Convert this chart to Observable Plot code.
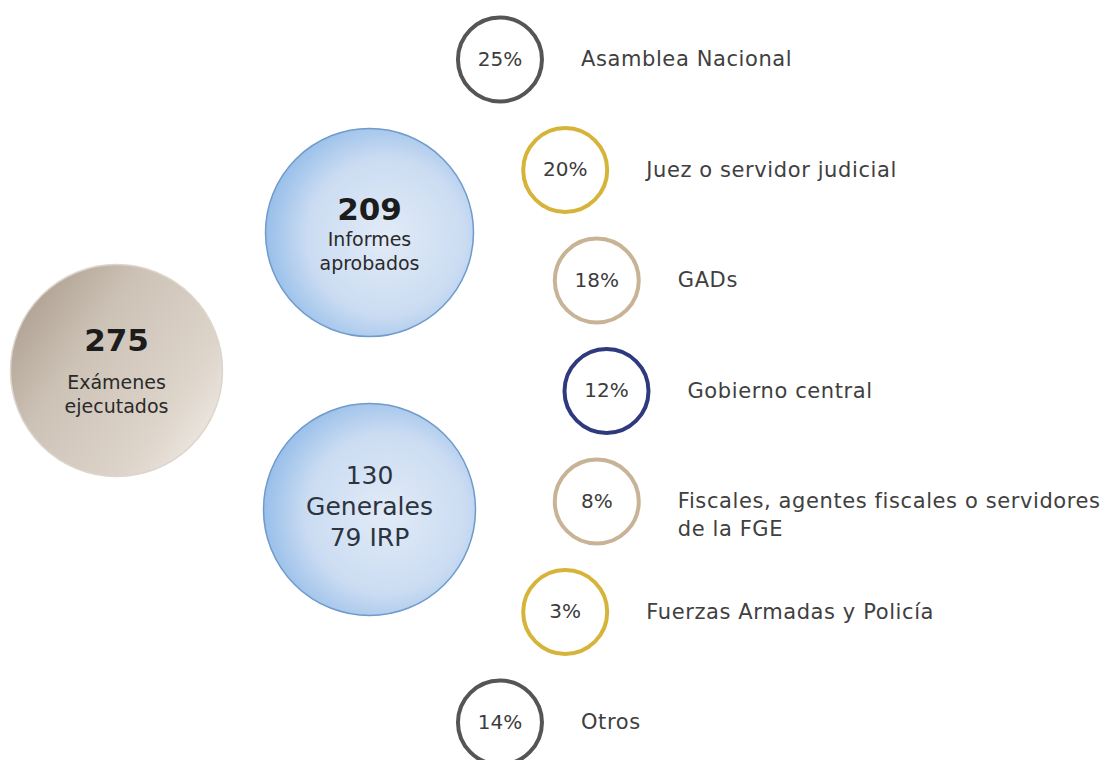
<!DOCTYPE html>
<html>
<head>
<meta charset="utf-8">
<script src="https://cdn.jsdelivr.net/npm/d3@7"></script>
<script src="https://cdn.jsdelivr.net/npm/@observablehq/plot@0.6"></script>
<style>
  html, body { margin: 0; padding: 0; background: #ffffff; }
  #chart { width: 1101px; height: 760px; }
</style>
</head>
<body>
<div id="chart"></div>
<script>
// ---- Data ----
const totalLines = ["275", "Exámenes", "ejecutados"];
const approvedLines = ["209", "Informes", "aprobados"];
const breakdownLines = ["130", "Generales", "79 IRP"];

const categories = [
  "Asamblea Nacional",
  "Juez o servidor judicial",
  "GADs",
  "Gobierno central",
  "Fiscales, agentes fiscales o servidores\nde la FGE",
  "Fuerzas Armadas y Policía",
  "Otros"
];
const percents = [25, 20, 18, 12, 8, 3, 14];
const ringColors = ["#555555", "#d6b43a", "#c9b397", "#2f3a7e", "#c9b397", "#d6b43a", "#555555"];

// ---- Layout (computed) ----
const W = 1101, H = 760;
const arcCx = 330, arcCy = 390.5, arcA = 276, arcB = 420;
const yTop = 59, yBottom = 722;
const step = (yBottom - yTop) / (categories.length - 1);
const rings = categories.map((c, i) => {
  const y = yTop + i * step;
  const x = arcCx + arcA * Math.sqrt(Math.max(0, 1 - ((y - arcCy) / arcB) ** 2));
  const lines = c.split("\n");
  return {first: lines[0], second: lines[1] || "", pct: percents[i] + "%", color: ringColors[i], x, y};
});

const bigCircles = [
  {x: 116, y: 370, r: 106, fill: "url(#gradBeige)", stroke: "#ddd5cc", lines: totalLines, dys: [-29, 12, 36], sizes: [31, 19, 19], bold: true, color: "#2a2a2a"},
  {x: 369, y: 232, r: 104, fill: "url(#gradBlue)", stroke: "#6f9bcb", lines: approvedLines, dys: [-22, 7, 31], sizes: [31, 19, 19], bold: true, color: "#2a2a2a"},
  {x: 369, y: 509, r: 106, fill: "url(#gradBlue)", stroke: "#6f9bcb", lines: breakdownLines, dys: [-34, -3, 28], sizes: [25, 25, 25], bold: false, color: "#2c3440"}
];
const centerTexts = bigCircles.flatMap(c => c.lines.map((t, j) => ({
  x: c.x, y: c.y + c.dys[j], t, s: c.sizes[j], bold: c.bold && j === 0, color: c.color
})));

const font = "'DejaVu Sans', sans-serif";

const chart = Plot.plot({
  width: W, height: H,
  margin: 0,
  x: {domain: [0, W], range: [0, W], axis: null},
  y: {domain: [0, H], range: [0, H], axis: null},
  r: {type: "identity"},
  style: {fontFamily: font, background: "#ffffff"},
  marks: [
    Plot.dot(bigCircles, {x: "x", y: "y", r: "r", fill: d => d.fill, stroke: d => d.stroke, strokeWidth: 1.5}),
    Plot.dot(rings, {x: "x", y: "y", r: 42, fill: "#ffffff", stroke: d => d.color, strokeWidth: 4}),
    Plot.text(rings, {x: "x", y: "y", text: "pct", fontSize: 20, fill: "#3c3c3c"}),
    Plot.text(rings, {x: d => d.x + 81, y: "y", text: "first", textAnchor: "start", fontSize: 21, fill: "#404040", className: "lbl"}),
    Plot.text(rings.filter(d => d.second), {x: d => d.x + 81, y: d => d.y + 28, text: "second", textAnchor: "start", fontSize: 21, fill: "#404040", className: "lbl"}),
    Plot.text(centerTexts.filter(d => d.bold), {x: "x", y: "y", text: "t", fontSize: 31, fontWeight: "bold", fill: "#1c1c1c"}),
    Plot.text(centerTexts.filter(d => !d.bold), {x: "x", y: "y", text: "t", fontSize: d => d.s, fill: d => d.color})
  ]
});

// gradient definitions
const svg = d3.select(chart);
const defs = svg.insert("defs", ":first-child");
const gb = defs.append("linearGradient").attr("id", "gradBeige")
  .attr("x1", "0%").attr("y1", "15%").attr("x2", "100%").attr("y2", "85%");
gb.append("stop").attr("offset", "0%").attr("stop-color", "#aa9c8d");
gb.append("stop").attr("offset", "35%").attr("stop-color", "#cdc2b6");
gb.append("stop").attr("offset", "75%").attr("stop-color", "#ddd4ca");
gb.append("stop").attr("offset", "100%").attr("stop-color", "#f1ece6");
const gbl = defs.append("radialGradient").attr("id", "gradBlue")
  .attr("cx", "58%").attr("cy", "52%").attr("r", "58%");
gbl.append("stop").attr("offset", "0%").attr("stop-color", "#e2ebf7");
gbl.append("stop").attr("offset", "65%").attr("stop-color", "#cbdcf2");
gbl.append("stop").attr("offset", "100%").attr("stop-color", "#98bfea");
svg.selectAll(".lbl text").style("letter-spacing", "0.6px");

document.getElementById("chart").appendChild(chart);
</script>
</body>
</html>
